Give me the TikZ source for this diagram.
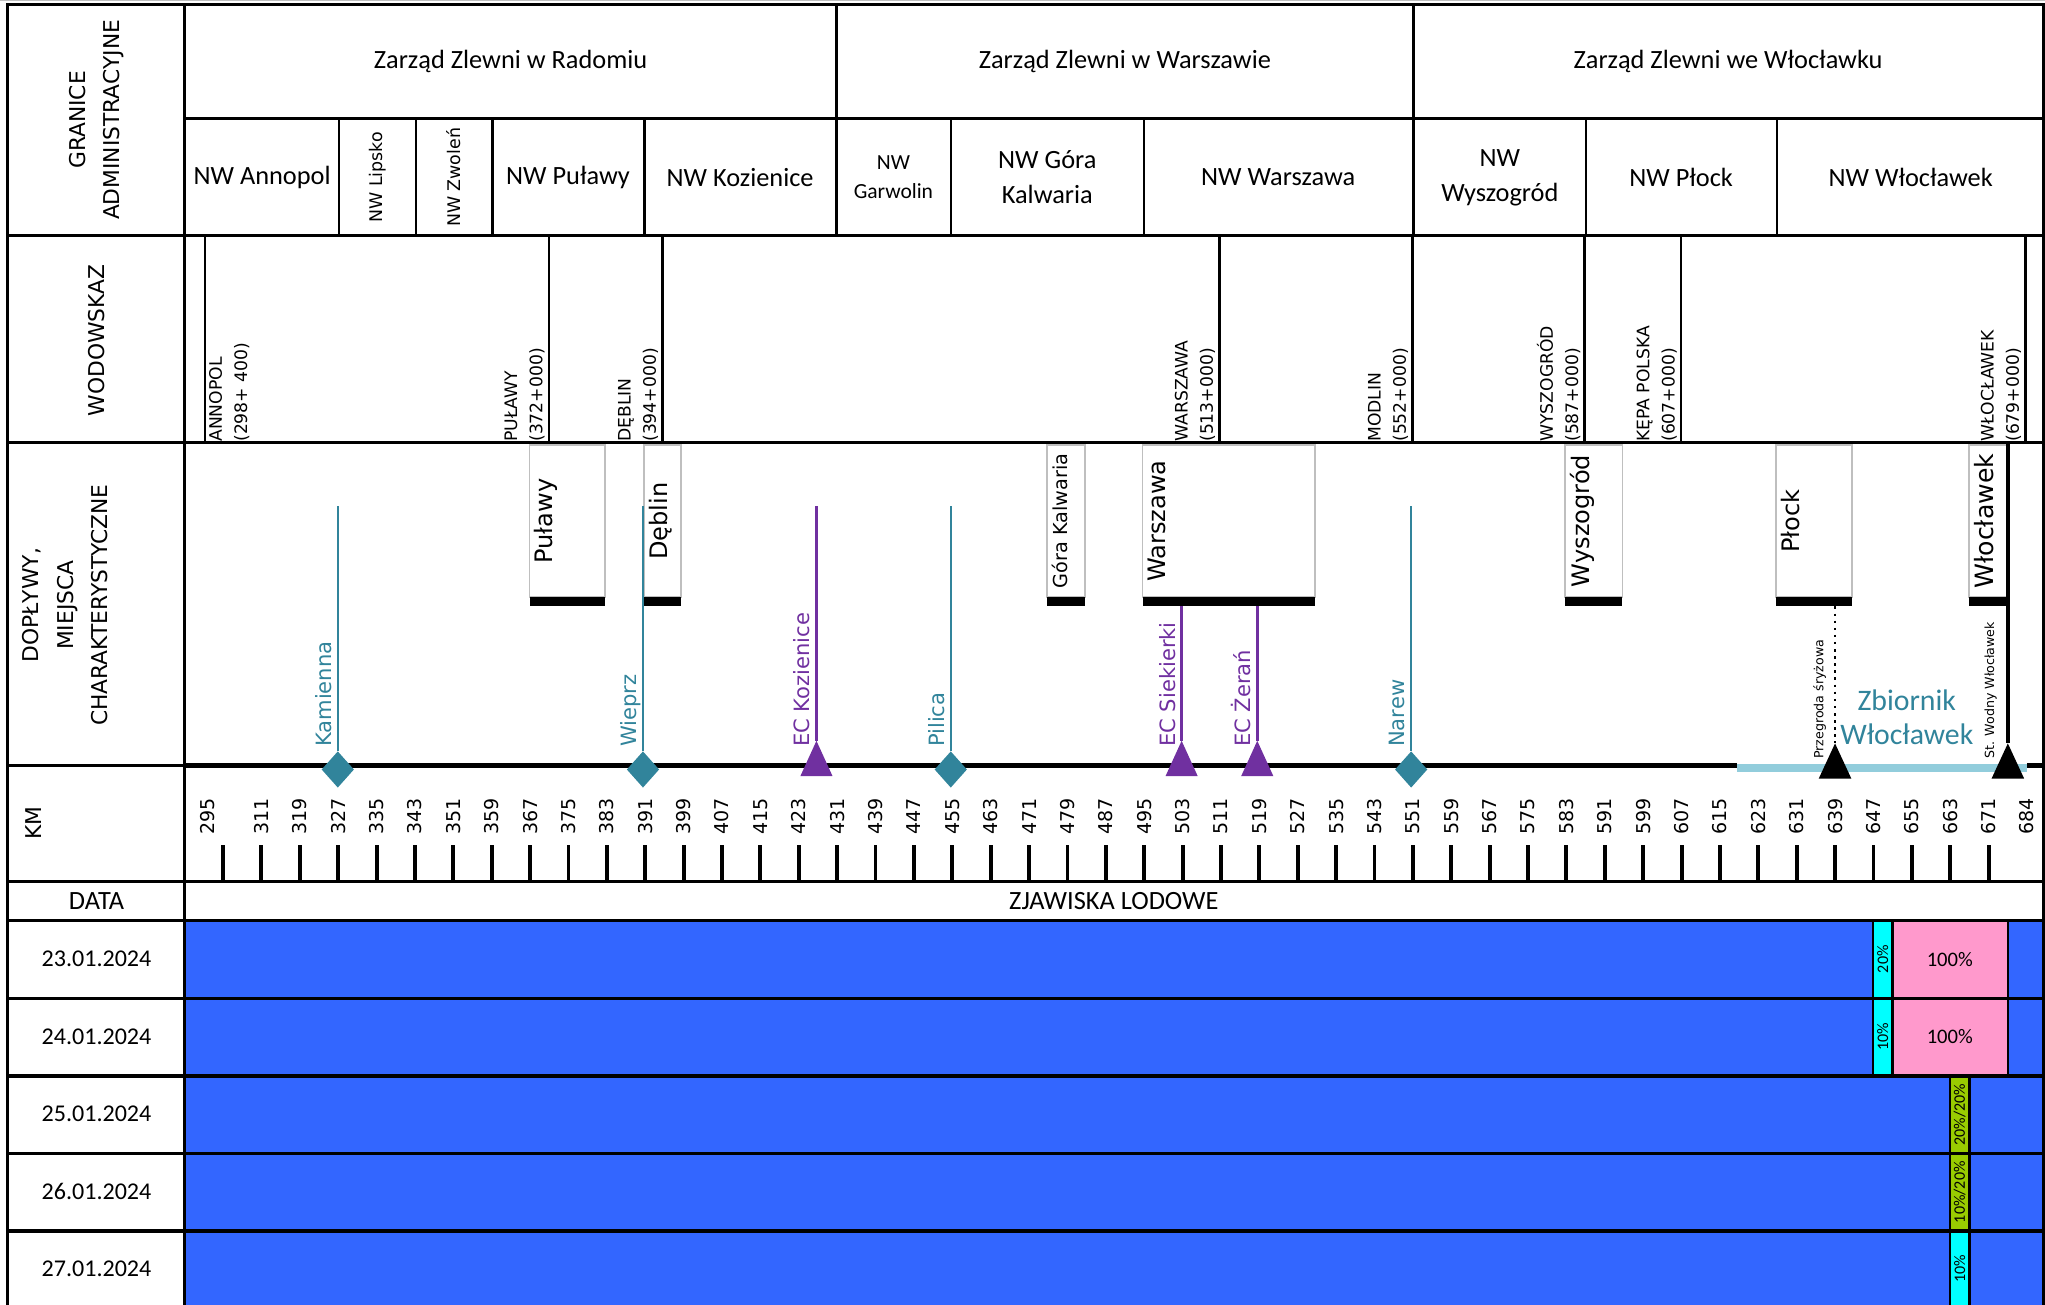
\documentclass[tikz,border=0pt]{standalone}
\usepackage{fontspec}
\setmainfont{Carlito}
\newfontfamily\dvs{DejaVu Sans}
\usetikzlibrary{shapes.geometric}

\definecolor{doplyw}{HTML}{31849B}
\definecolor{elektr}{HTML}{7030A0}
\definecolor{lod}{HTML}{3366FF}
\definecolor{sryz}{HTML}{00FFFF}
\definecolor{zator}{HTML}{FF99CC}
\definecolor{brzeg}{HTML}{99CC00}
\definecolor{zbiornik}{HTML}{92CDDC}
\definecolor{ramka}{HTML}{BFBFBF}

\tikzset{
  linia/.style={line width=1.4pt},
  cienka/.style={line width=1.1pt},
  rzeka/.style={line width=2.3pt},
  dopl/.style={draw=doplyw, line width=1.1pt},
  ec/.style={draw=elektr, line width=1.1pt},
  romb/.style={diamond, fill=doplyw, inner sep=0pt, minimum width=0.5cm, minimum height=0.56cm},
  nazwa/.style={rotate=90, anchor=base west, inner sep=0pt, font=\dvs\fontsize{9.2}{11}\selectfont},
  wodow/.style={rotate=90, align=left, inner sep=0pt, font=\dvs\fontsize{7.5}{11}\selectfont},
  miasto/.style={rotate=90, anchor=north, inner sep=2pt},
  kmtxt/.style={rotate=90, anchor=west, inner sep=0pt, font=\dvs\fontsize{8.3}{10}\selectfont},
  naglowek/.style={rotate=90, align=center, font=\dvs\fontsize{9.5}{15}\selectfont},
  nwmaly/.style={rotate=90, font=\dvs\fontsize{7.6}{9}\selectfont},
  zz/.style={align=center, font=\fontsize{11.5}{15.3}\selectfont},
  proc/.style={rotate=90, inner sep=0pt, font=\fontsize{7}{8}\selectfont},
  maly/.style={rotate=90, anchor=base west, inner sep=0pt, font=\dvs\fontsize{5.5}{6}\selectfont},
}

\begin{document}
\begin{tikzpicture}[x=0.02cm, y=-0.02cm]
\useasboundingbox (0,0) rectangle (1568,1000.6);

% zjawiska lodowe - pola
\fill[lod] (141.5,705.5) rectangle (1567,1001);
\fill[sryz] (1436,705.5) rectangle (1451,825);
\fill[zator] (1451,705.5) rectangle (1539.5,825);
\fill[brzeg] (1495,825) rectangle (1510,943.8);
\fill[sryz] (1495,943.8) rectangle (1510,1001);

% siatka tabeli
\draw[ramka, line width=0.6pt] (0,0.6) -- (1568,0.6);
\draw[linia] (6,1001) -- (6,3.5) -- (1567,3.5) -- (1567,1001);
\draw[linia] (141.5,3.5) -- (141.5,1001);
\draw[linia] (141.5,91) -- (1567,91);
\foreach \y in {180.5,339.5,676,705.5,765.6,825,884.4,943.8}
  \draw[linia] (6,\y) -- (1567,\y);
\draw[linia] (6,587) -- (141.5,587);
\foreach \x in {641.5,1083.6}
  \draw[linia] (\x,3.5) -- (\x,91);
\foreach \x in {260,319,377.5,494,641.5,729,877,1083.6,1216,1362.5}
  \draw[cienka] (\x,91) -- (\x,180.5);
\foreach \x in {1436,1451,1539.5}
  \draw[cienka] (\x,705.5) -- (\x,825);
\foreach \x in {1495,1510}
  \draw[cienka] (\x,825) -- (\x,1001);

% naglowki
\node[naglowek] (gran) at (74,92) {GRANICE\\ADMINISTRACYJNE};
\node[naglowek] (wod) at (74,261) {WODOWSKAZ};
\node[naglowek] (dop) at (50,464) {DOPŁYWY,\\MIEJSCA\\CHARAKTERYSTYCZNE};
\node[naglowek] (km) at (25.5,631) {KM};
\node[zz] (data) at (74,691) {DATA};
\node[zz] (zjaw) at (854,691) {ZJAWISKA LODOWE};

% zarzady zlewni
\node[zz] (zzrad) at (391.5,47) {Zarząd Zlewni w Radomiu};
\node[zz] (zzwar) at (862.5,47) {Zarząd Zlewni w Warszawie};
\node[zz] (zzwlo) at (1325,47) {Zarząd Zlewni we Włocławku};

% nadzory wodne
\node[zz] (nwann) at (201,136) {NW Annopol};
\node[nwmaly] (nwlip) at (289.5,136) {NW Lipsko};
\node[nwmaly] (nwzwo) at (348,136) {NW Zwoleń};
\node[zz] (nwpul) at (435.5,136) {NW Puławy};
\node[zz] (nwkoz) at (567.5,136) {NW Kozienice};
\node[zz, font=\fontsize{9.4}{12.5}\selectfont] (nwgar) at (685,136) {NW\\Garwolin};
\node[zz] (nwgk) at (803,136) {NW Góra\\Kalwaria};
\node[zz] (nwwar) at (980,136) {NW Warszawa};
\node[zz] (nwwys) at (1150,136) {NW\\Wyszogród};
\node[zz] (nwplo) at (1289,136) {NW Płock};
\node[zz] (nwwlo) at (1465,136) {NW Włocławek};

% wodowskazy
\draw[cienka] (157,180.5) -- (157,339.5);
\node[wodow, anchor=north west] (w157) at (160,339) {ANNOPOL\\(298+ 400)};
\foreach \x/\n/\k in {421/PUŁAWY/372+000, 508/DĘBLIN/394+000, 935/WARSZAWA/513+000,
    1083/MODLIN/552+000, 1215/WYSZOGRÓD/587+000, 1289/KĘPA POLSKA/607+000,
    1553/WŁOCŁAWEK/679+000}{
  \draw[cienka] (\x,180.5) -- (\x,339.5);
  \node[wodow, anchor=south west] (w\x) at (\x-3,339) {\n\\(\k)};
}

% miejscowosci
\foreach \a/\b/\n/\f in {406/464/Puławy/10.5, 494/522/Dęblin/10.5, 803/832/Góra Kalwaria/8.4,
    876/1008/Warszawa/10.5, 1200/1244/Wyszogród/10.5, 1362/1420/Płock/10.5,
    1510/1539/Włocławek/11}{
  \draw[draw=ramka, fill=white, line width=0.8pt] (\a,341) rectangle (\b,458);
  \fill (\a,458) rectangle (\b,465);
  \node[miasto, font=\dvs\fontsize{\f}{12}\selectfont] (m\a) at (\a,399.5) {\n};
}

% rzeka i zbiornik
\draw[rzeka] (141.5,587) -- (1332,587);
\draw[rzeka] (1554,587) -- (1567,587);
\draw[zbiornik, line width=0.12cm] (1332,589) -- (1554,589);
\node[zz, text=doplyw, font=\fontsize{13}{14.7}\selectfont] (zb) at (1462,550) {Zbiornik\\Włocławek};

% doplywy
\foreach \x/\n in {259/Kamienna, 493/Wieprz, 729/Pilica, 1082/Narew}{
  \coordinate (d\x) at (\x,388);
  \node[romb] (r\x) at (\x,590) {};
  \draw[dopl] (d\x) -- (r\x.north);
  \node[nazwa, text=doplyw] (n\x) at (\x-5,573) {\n};
}

% elektrocieplownie
\foreach \x/\t/\n in {626/388/EC Kozienice, 906/465/EC Siekierki, 964/465/EC Żerań}{
  \coordinate (e\x) at (\x,\t);
  \coordinate (t\x) at (\x,568);
  \draw[ec] (e\x) -- (t\x);
  \fill[elektr] (t\x) -- ++(12.3,27) -- ++(-24.6,0) -- cycle;
  \node[nazwa, text=elektr] (n\x) at (\x-5,573) {\n};
}

% przegroda i stopien wodny
\coordinate (prztop) at (1407,465);
\coordinate (prz) at (1407,570);
\draw[cienka, dotted] (prztop) -- (prz);
\fill (prz) -- ++(12.5,27) -- ++(-25,0) -- cycle;
\node[maly] (przlab) at (1398,582) {Przegroda śryżowa};
\coordinate (swtop) at (1539.5,339.5);
\coordinate (sw) at (1539.5,570);
\draw[line width=2pt] (swtop) -- (sw);
\fill (sw) -- ++(12.5,27) -- ++(-25,0) -- cycle;
\node[maly] (swlab) at (1529,582) {St. Wodny Włocławek};

% kilometraz
\foreach \i in {0,...,46}
  \draw[line width=1.7pt] ({171+\i*29.43},648) -- ({171+\i*29.43},676);
\node[kmtxt] (km295) at (159,640) {295};
\foreach \k [count=\i] in {311,319,...,671}
  \node[kmtxt] (km\k) at ({171+\i*29.43},640) {\k};
\node[kmtxt] (km684) at (1553.5,640) {684};

% daty
\foreach \d [count=\r from 0] in {23,24,25,26,27}
  \node[font=\fontsize{10.5}{12}\selectfont] (dz\d) at (74,{735.5+\r*59.4}) {\d.01.2024};

% procenty
\node[proc] (p1) at (1443.5,735.5) {20\%};
\node[proc] (p2) at (1443.5,795) {10\%};
\node[font=\fontsize{9}{10}\selectfont] (z1) at (1495,735.5) {100\%};
\node[font=\fontsize{9}{10}\selectfont] (z2) at (1495,795) {100\%};
\node[proc] (p3) at (1502.5,854.7) {20\%/20\%};
\node[proc] (p4) at (1502.5,914.1) {10\%/20\%};
\node[proc] (p5) at (1502.5,973) {10\%};
\end{tikzpicture}
\end{document}
